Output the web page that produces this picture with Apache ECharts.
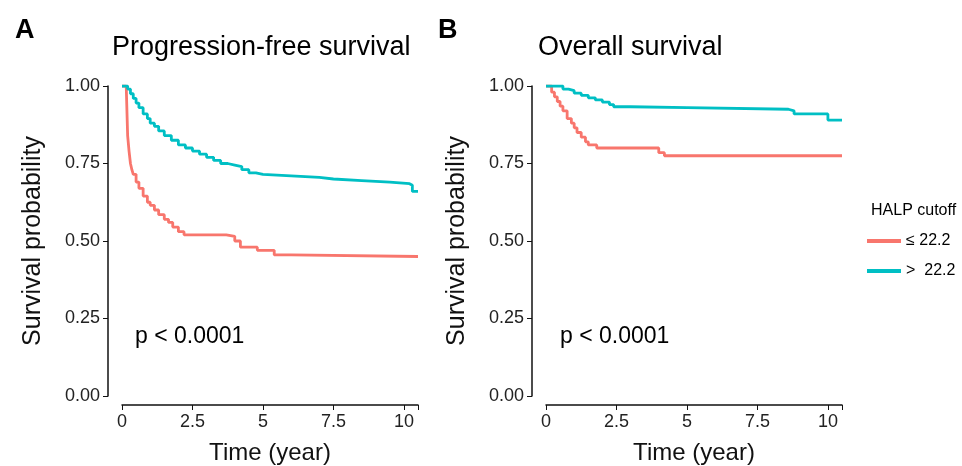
<!DOCTYPE html><html><head><meta charset="utf-8"><script src="https://cdn.jsdelivr.net/npm/echarts@6/dist/echarts.min.js"></script></head><body style="margin:0"><div id="c" style="width:962px;height:466px"></div><script>
const xTicks=[0,2.5,5,7.5,10];
const yTicks=[0,0.25,0.5,0.75,1];
const groups=['≤ 22.2','>  22.2'];
const pfsLow=[[0,1],[0.15,1],[0.2,0.84],[0.25,0.79],[0.3,0.75],[0.35,0.73],[0.4,0.715],[0.5,0.69],[0.6,0.67],[0.75,0.645],[0.9,0.625],[1.0,0.615],[1.15,0.60],[1.3,0.585],[1.5,0.57],[1.65,0.56],[1.8,0.545],[2.0,0.53],[2.2,0.52],[3.0,0.52],[3.7,0.515],[4.0,0.50],[4.2,0.48],[4.8,0.47],[5.4,0.455],[6,0.45],[10.5,0.45]];
const pfsHigh=[[0,1],[0.2,0.99],[0.3,0.975],[0.4,0.96],[0.5,0.945],[0.6,0.93],[0.75,0.91],[0.9,0.895],[1.0,0.88],[1.15,0.87],[1.3,0.855],[1.5,0.84],[1.75,0.825],[2.0,0.81],[2.25,0.80],[2.5,0.79],[2.75,0.78],[3.0,0.77],[3.25,0.76],[3.5,0.75],[3.75,0.745],[4.0,0.74],[4.25,0.73],[4.5,0.72],[4.75,0.715],[5.0,0.71],[6.0,0.705],[7.0,0.70],[7.5,0.695],[8.5,0.69],[9.5,0.685],[10.2,0.68],[10.3,0.66],[10.5,0.66]];
const osLow=[[0,1],[0.1,1],[0.2,0.98],[0.3,0.965],[0.4,0.95],[0.5,0.935],[0.6,0.92],[0.75,0.895],[0.9,0.88],[1.0,0.865],[1.1,0.85],[1.25,0.835],[1.4,0.82],[1.5,0.81],[1.8,0.80],[3.9,0.80],[4.0,0.785],[4.2,0.775],[10.5,0.775]];
const osHigh=[[0,1],[0.3,1],[0.6,0.99],[0.8,0.985],[1.0,0.977],[1.25,0.97],[1.5,0.962],[1.75,0.955],[2.0,0.948],[2.25,0.94],[2.4,0.933],[3.0,0.93],[5.0,0.925],[8.6,0.92],[8.8,0.91],[9.9,0.91],[10.0,0.89],[10.5,0.89]];
const cols=['#F8766D','#00BFC4'];
const ax={fontSize:18,color:'#222',fontFamily:'Liberation Sans'};
function xa(i){return {type:'value',gridIndex:i,min:0,max:10.5,interval:2.5,offset:9,name:'Time (year)',nameLocation:'middle',nameGap:36,nameTextStyle:{fontSize:24,color:'#111'},axisLine:{onZero:false,lineStyle:{color:'#111',width:1.5}},axisTick:{lineStyle:{color:'#111'}},axisLabel:Object.assign({formatter:v=>xTicks.includes(v)?String(v):''},ax),splitLine:{show:false}};}
function ya(i){return {type:'value',gridIndex:i,min:0,max:1,interval:0.25,offset:14,name:'Survival probability',nameLocation:'middle',nameGap:62,nameTextStyle:{fontSize:25,color:'#111'},axisLine:{show:true,onZero:false,lineStyle:{color:'#111',width:1.5}},axisTick:{show:true,lineStyle:{color:'#111'}},axisLabel:Object.assign({formatter:v=>yTicks.includes(v)?v.toFixed(2):''},ax),splitLine:{show:false}};}
function s(name,data,i,c){return {type:'line',name,data,xAxisIndex:i,yAxisIndex:i,step:'end',symbol:'none',lineStyle:{width:2.8,color:c},itemStyle:{color:c}};}
const ch=echarts.init(document.getElementById('c'));
ch.setOption({animation:false,textStyle:{fontFamily:'Liberation Sans'},
grid:[{left:122,top:86,width:296,height:310,outerBoundsMode:'none',containLabel:false},{left:546,top:86,width:296,height:310,outerBoundsMode:'none',containLabel:false}],
xAxis:[xa(0),xa(1)],yAxis:[ya(0),ya(1)],
title:[{text:'A',left:10,top:12,textStyle:{fontSize:27,fontWeight:'bold',color:'#000'}},{text:'Progression-free survival',left:107,top:29,textStyle:{fontSize:27,fontWeight:'normal',color:'#000'}},
{text:'B',left:433,top:12,textStyle:{fontSize:27,fontWeight:'bold',color:'#000'}},{text:'Overall survival',left:533,top:29,textStyle:{fontSize:27,fontWeight:'normal',color:'#000'}},
{text:'p < 0.0001',left:130,top:320,textStyle:{fontSize:23,fontWeight:'normal',color:'#000'}},{text:'p < 0.0001',left:555,top:320,textStyle:{fontSize:23,fontWeight:'normal',color:'#000'}},
{text:'HALP cutoff',left:866,top:198,textStyle:{fontSize:16,fontWeight:'normal',color:'#000'}}],
legend:{left:862,top:228,orient:'vertical',itemGap:14,itemWidth:34,itemHeight:4,icon:'rect',data:groups,textStyle:{fontSize:16,color:'#000'}},
series:[s(groups[0],pfsLow,0,cols[0]),s(groups[1],pfsHigh,0,cols[1]),s(groups[0],osLow,1,cols[0]),s(groups[1],osHigh,1,cols[1])]});
</script></body></html>
